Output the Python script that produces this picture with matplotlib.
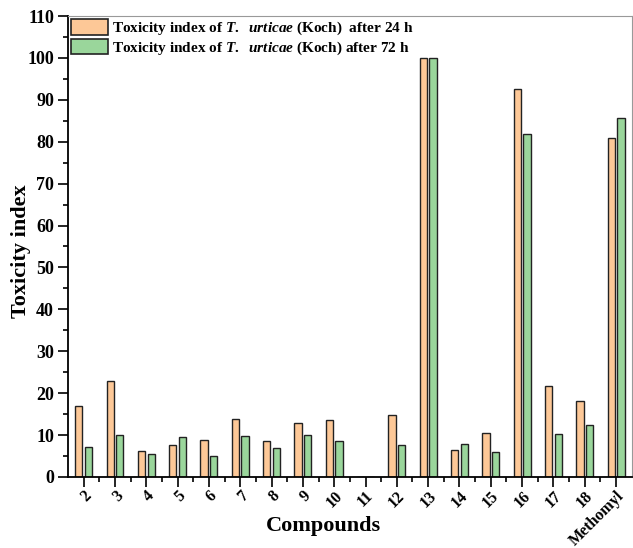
import numpy as np
import matplotlib
matplotlib.use("Agg")
import matplotlib.pyplot as plt
from matplotlib.ticker import MultipleLocator, FixedLocator

plt.rcParams['font.family'] = 'Liberation Serif'
plt.rcParams['font.weight'] = 'bold'
plt.rcParams['mathtext.fontset'] = 'custom'
plt.rcParams['mathtext.rm'] = 'Liberation Serif:bold'
plt.rcParams['mathtext.it'] = 'Liberation Serif:italic:bold'
plt.rcParams['mathtext.bf'] = 'Liberation Serif:bold'

compounds = ['2', '3', '4', '5', '6', '7', '8', '9', '10', '11', '12', '13',
             '14', '15', '16', '17', '18', 'Methomyl']
tox_24h = [17.0, 23.0, 6.1, 7.6, 8.8, 13.8, 8.7, 13.0, 13.7, 0, 14.8, 100,
           6.5, 10.4, 92.5, 21.7, 18.2, 80.8]
tox_72h = [7.2, 9.9, 5.5, 9.5, 5.1, 9.7, 6.8, 9.9, 8.6, 0, 7.6, 100,
           7.9, 6.0, 81.8, 10.2, 12.3, 85.6]

fig = plt.figure(figsize=(6.33, 5.48), dpi=100)
ax = fig.add_axes([0.1074, 0.1296, 0.8906, 0.8412])

x = np.arange(len(compounds))
w = 0.23
ax.bar(x - 0.155, tox_24h, w, color='#fdc897', edgecolor='#222222', linewidth=1.0,
       label=r'Toxicity index of $T.\ \ urticae$ (Koch)  after 24 h')
ax.bar(x + 0.155, tox_72h, w, color='#9ad69b', edgecolor='#222222', linewidth=1.0,
       label=r'Toxicity index of $T.\ \ urticae$ (Koch) after 72 h')

ax.set_xlim(-0.5, len(compounds) - 0.5)
ax.set_ylim(0, 110)
ax.set_xticks(x)
ax.set_xticklabels(compounds, rotation=45, ha='right', rotation_mode='anchor', fontsize=11.5)
ax.xaxis.set_minor_locator(FixedLocator(x[:-1] + 0.5))
ax.yaxis.set_major_locator(MultipleLocator(10))
ax.yaxis.set_minor_locator(MultipleLocator(5))
ax.tick_params(axis='both', which='major', direction='out', length=7, width=1.2)
ax.tick_params(axis='both', which='minor', direction='out', length=3.5, width=1.2)
ax.tick_params(axis='x', which='major', pad=1)
ax.tick_params(axis='y', labelsize=13, pad=3)
for lab in ax.get_yticklabels():
    lab.set_fontweight('bold')
for s in ['left', 'bottom']:
    ax.spines[s].set_linewidth(1.3)
for s in ['top', 'right']:
    ax.spines[s].set_linewidth(0.8)
    ax.spines[s].set_color('#999999')

ax.set_xlabel('Compounds', fontsize=16, fontweight='bold', va='center')
ax.xaxis.set_label_coords(0.454, -0.106)
ax.set_ylabel('Toxicity index', fontsize=16, fontweight='bold', va='center')
ax.yaxis.set_label_coords(-0.083, 0.49)

leg = ax.legend(loc='upper left', bbox_to_anchor=(0, 1), frameon=False, fontsize=11,
                handlelength=2.4, handleheight=1.2, labelspacing=0.1,
                handletextpad=0.3, borderpad=0.2, borderaxespad=0.0)
for p in leg.get_patches():
    p.set_linewidth(1.2)

plt.savefig('out.png', dpi=100)
